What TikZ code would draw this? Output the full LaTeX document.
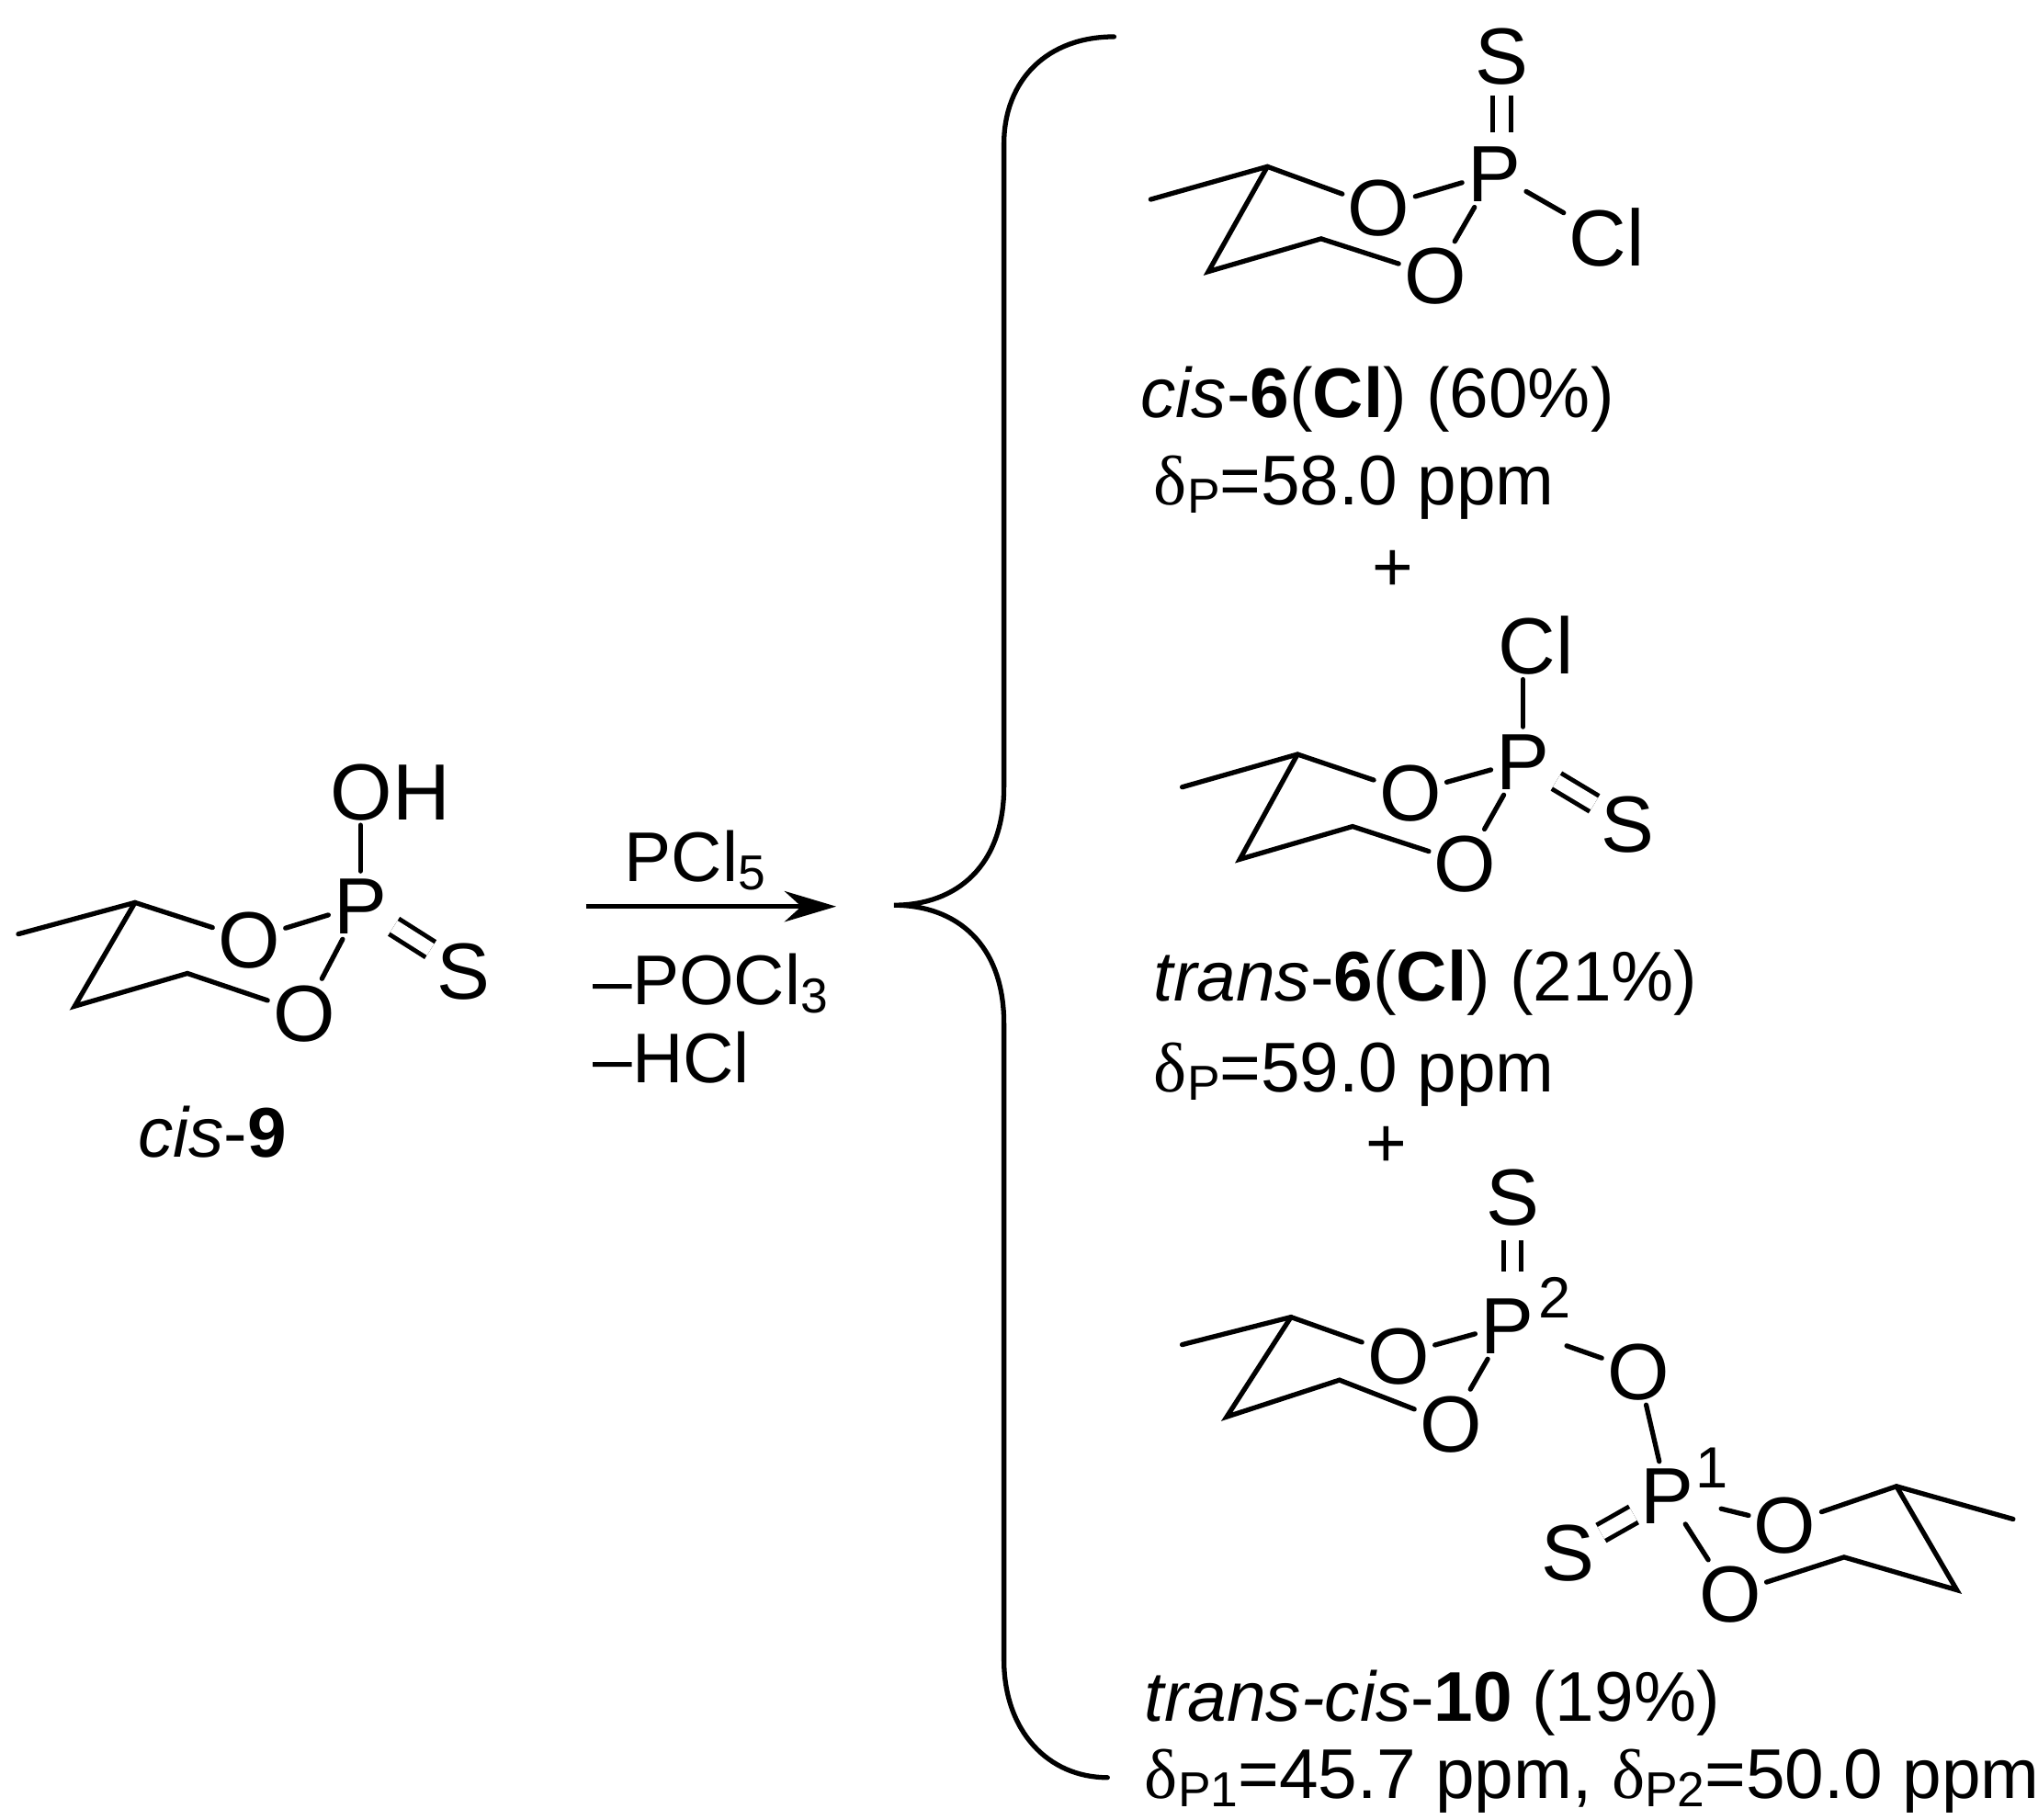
\documentclass[tikz,border=0pt]{standalone}
\usepackage{fontspec}
\setmainfont{Liberation Sans}
\newfontfamily\grk{Liberation Serif}
\usetikzlibrary{arrows.meta}
\newcommand{\lowtxt}[1]{\raisebox{-2.6pt}{\fontsize{15.2}{18}\selectfont #1}}
\newcommand{\shift}[1]{{\grk δ}\lowtxt{#1}}
\tikzset{
  atom/.style={font=\fontsize{24.7}{28}\selectfont, inner sep=1.5pt, text height=17.7pt, text depth=0pt},
  num/.style={font=\fontsize{18}{20}\selectfont, inner sep=0pt},
  lbl/.style={font=\fontsize{21.8}{26}\selectfont, inner sep=0pt, anchor=base west},
  bond/.style={line width=1.5pt, line cap=round},
  dbond/.style={double, double distance=4.2pt, line width=1.4pt, shorten <=0.5pt, shorten >=0.5pt}
}
\begin{document}
\begin{tikzpicture}[x=0.01426cm,y=-0.014276cm]
\useasboundingbox (0,0) rectangle (1555,1387);
% cis-9
\coordinate (me0) at (14,712);
\coordinate (a1) at (103,688);
\coordinate (a2) at (57,767);
\coordinate (a3) at (143,742);
\node[atom] (ao1) at (190,716) {O};
\node[atom] (ao2) at (232,772) {O};
\node[atom] (ap) at (275,690) {P};
\node[atom] (aoh) at (298,603) {OH};
\node[atom] (as) at (354,740) {S};
\draw[bond] (me0) -- (a1) -- (ao1);
\draw[bond] (a1) -- (a2) -- (a3) -- (ao2);
\draw[bond] (ao1) -- (ap);
\draw[bond] (ao2) -- (ap);
\draw[bond] (ap) -- (ap |- aoh.south);
\draw[dbond] (ap) -- (as);
\node[lbl, anchor=base] (l9) at (162,882) {\textit{cis}-\textbf{9}};
% reaction arrow
\node[lbl] (rpcl) at (476,672) {PCl\lowtxt{5}};
\node[lbl] (rpocl) at (452,766) {–POCl\lowtxt{3}};
\node[lbl] (rhcl) at (452,825) {–HCl};
\coordinate (arrow0) at (447,691);
\coordinate (arrow1) at (638,691);
\draw[-{Stealth[length=16pt,width=9.5pt]}, line width=1.5pt] (arrow0) -- (arrow1);
% brace
\coordinate (brtop) at (850,28);
\coordinate (brmid) at (682,690);
\coordinate (brbot) at (845,1355);
\draw[bond] (brtop) .. controls (800,28) and (766,60) .. (766,110) -- (766,600)
  .. controls (766,660) and (730,690) .. (brmid)
  .. controls (730,690) and (766,720) .. (766,780) -- (766,1265)
  .. controls (766,1320) and (800,1355) .. (brbot);
% cis-6(Cl)
\coordinate (me1) at (878,152);
\coordinate (b1) at (967,127);
\coordinate (b2) at (922,207);
\coordinate (b3) at (1008,182);
\node[atom] (bo1) at (1052,158) {O};
\node[atom] (bo2) at (1095,210) {O};
\node[atom] (bp) at (1140,132) {P};
\node[atom] (bs) at (1146,42) {S};
\node[atom] (bcl) at (1226,181) {Cl};
\draw[bond] (me1) -- (b1) -- (bo1);
\draw[bond] (b1) -- (b2) -- (b3) -- (bo2);
\draw[bond] (bo1) -- (bp);
\draw[bond] (bo2) -- (bp);
\draw[bond] (bp) -- (bcl);
\draw[dbond, shorten <=2pt, shorten >=2pt] (bp.north -| bs) -- (bs);
\node[lbl] (l6c) at (870,318) {\textit{cis}-\textbf{6}(\textbf{Cl}) (60\%)};
\node[lbl] (d6c) at (880,385) {\shift{P}=58.0 ppm};
\node[lbl, anchor=center] (plus1) at (1063,435) {+};
% trans-6(Cl)
\coordinate (me2) at (902,600);
\coordinate (c1) at (990,575);
\coordinate (c2) at (946,655);
\coordinate (c3) at (1032,630);
\node[atom] (co1) at (1076,604) {O};
\node[atom] (co2) at (1118,658) {O};
\node[atom] (cp) at (1162,580) {P};
\node[atom] (ccl) at (1172,492) {Cl};
\node[atom] (cs) at (1242,628) {S};
\draw[bond] (me2) -- (c1) -- (co1);
\draw[bond] (c1) -- (c2) -- (c3) -- (co2);
\draw[bond] (co1) -- (cp);
\draw[bond] (co2) -- (cp);
\draw[bond] (cp) -- (cp |- ccl.south);
\draw[dbond] (cp) -- (cs);
\node[lbl] (l6t) at (880,763) {\textit{trans}-\textbf{6}(\textbf{Cl}) (21\%)};
\node[lbl] (d6t) at (880,832) {\shift{P}=59.0 ppm};
\node[lbl, anchor=center] (plus2) at (1058,874) {+};
% trans-cis-10
\coordinate (me3) at (902,1025);
\coordinate (d1) at (985,1004);
\coordinate (d2) at (936,1080);
\coordinate (d3) at (1022,1052);
\node[atom] (do1) at (1067,1033) {O};
\node[atom] (do2) at (1107,1085) {O};
\node[atom] (dp2) at (1150,1010) {P};
\node[num] (dn2) at (1186,989) {2};
\node[atom] (ds2) at (1154,912) {S};
\node[atom] (do3) at (1250,1045) {O};
\node[atom] (dp1) at (1272,1140) {P};
\node[num] (dn1) at (1306,1119) {1};
\node[atom] (ds1) at (1196,1183) {S};
\node[atom] (do4) at (1362,1162) {O};
\node[atom] (do5) at (1320,1215) {O};
\coordinate (e1) at (1447,1133);
\coordinate (me4) at (1536,1158);
\coordinate (e2) at (1493,1212);
\coordinate (e3) at (1407,1187);
\draw[bond] (me3) -- (d1) -- (do1);
\draw[bond] (d1) -- (d2) -- (d3) -- (do2);
\draw[bond] (do1) -- (dp2);
\draw[bond] (do2) -- (dp2);
\draw[dbond, shorten <=6pt, shorten >=3pt] (dp2.north -| ds2) -- (ds2);
\draw[bond, shorten <=9pt] (dp2) -- (do3);
\draw[bond] (do3) -- (dp1);
\draw[dbond] (dp1) -- (ds1);
\draw[bond, shorten <=7pt] (dp1) -- (do4);
\draw[bond, shorten <=-2pt] (dp1) -- (do5);
\draw[bond] (do4) -- (e1) -- (me4);
\draw[bond] (e1) -- (e2) -- (e3) -- (do5);
\node[lbl] (l10) at (873,1312) {\textit{trans-cis}-\textbf{10} (19\%)};
\node[lbl] (d10) at (873,1371) {\shift{P1}=45.7 ppm, \shift{P2}=50.0 ppm};
\end{tikzpicture}
\end{document}
